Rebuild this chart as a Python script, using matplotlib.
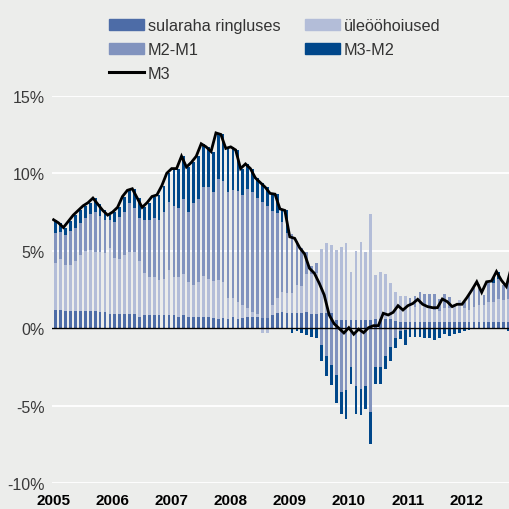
import numpy as np
import pandas as pd
import matplotlib
matplotlib.use("Agg")
import matplotlib.pyplot as plt
from matplotlib.patches import Patch
from matplotlib.lines import Line2D

# === DONNEES (contributions a la croissance de M3, %) ===
months = pd.date_range("2005-01-01", periods=93, freq="MS")
years = ["2005", "2006", "2007", "2008", "2009", "2010", "2011", "2012"]

sularaha = [1.18, 1.18, 1.12, 1.12, 1.12, 1.12, 1.12, 1.12, 1.12, 1.03, 1.03, 0.90,
            0.90, 0.90, 0.90, 0.90, 0.90, 0.75, 0.86, 0.86, 0.86, 0.86, 0.86, 0.86,
            0.86, 0.75, 0.86, 0.70, 0.75, 0.70, 0.70, 0.70, 0.65, 0.60, 0.65, 0.60,
            0.70, 0.60, 0.65, 0.70, 0.70, 0.75, 0.65, 0.65, 0.84, 0.97, 1.08, 0.97,
            0.97, 0.97, 0.97, 1.07, 0.90, 0.90, 0.97, 0.97, 0.97, 0.55, 0.55, 0.55,
            0.55, 0.55, 0.55, 0.55, 0.55, 0.60, 0.60, 0.60, 0.60, 0.45, 0.40, 0.40,
            0.40, 0.40, 0.40, 0.40, 0.40, 0.40, 0.39, 0.39, 0.39, 0.39, 0.39, 0.39,
            0.39, 0.40, 0.40, 0.40, 0.40, 0.40, 0.40, 0.40, 0.40]

uleoo = [3.02, 3.32, 2.98, 2.98, 3.23, 3.58, 3.88, 3.93, 3.83, 3.87, 3.81, 4.26,
         3.62, 3.60, 3.80, 4.05, 4.00, 3.60, 2.69, 2.47, 2.47, 2.24, 2.32, 2.90,
         2.47, 2.58, 2.62, 2.30, 2.05, 2.30, 2.70, 2.48, 2.40, 2.50, 2.35, 1.34,
         1.28, 1.10, 0.85, 0.59, 0.37, 0.15, -0.30, -0.30, 0.66, 0.97, 1.29, 1.30,
         1.33, 1.83, 1.73, 2.43, 2.60, 2.65, 4.13, 4.51, 4.40, 4.50, 4.72, 4.93,
         3.11, 4.45, 5.04, 4.40, 6.85, 2.84, 3.00, 2.88, 2.30, 1.92, 1.66, 1.66,
         1.10, 1.00, 1.20, 1.10, 0.90, 0.80, 0.70, 0.90, 0.90, 1.20, 1.44, 0.90,
         0.80, 1.00, 1.10, 1.10, 1.30, 1.30, 1.50, 1.43, 1.50]

m2_m1 = [1.93, 1.69, 1.90, 2.16, 2.10, 2.07, 2.10, 2.30, 2.58, 2.37, 2.16, 1.84,
         2.36, 2.70, 2.83, 3.11, 2.84, 2.75, 3.45, 3.67, 3.77, 3.90, 4.30, 4.37,
         4.57, 4.41, 4.87, 4.53, 5.26, 5.35, 5.74, 5.94, 5.72, 6.53, 6.50, 6.83,
         6.94, 7.16, 7.10, 7.70, 7.75, 7.49, 7.52, 7.25, 6.07, 5.48, 4.51, 3.87,
         3.80, 2.80, 2.50, 1.40, 0.50, 0.65, -1.08, -1.80, -2.37, -3.00, -4.10, -4.00,
         -2.50, -3.70, -3.90, -3.70, -5.40, -2.50, -2.50, -1.80, -1.20, -0.60, -0.17, -0.10,
         0.45, 0.66, 0.77, 0.70, 0.90, 1.00, 0.78, 0.90, 0.74, 0.00, 0.00, 0.43,
         0.97, 1.22, 1.34, 0.65, 1.20, 1.20, 1.30, 0.97, 1.10]

m3_m2 = [0.87, 0.61, 0.50, 0.64, 0.85, 0.83, 0.80, 0.75, 0.87, 0.73, 0.60, 0.30,
         0.62, 0.60, 0.97, 0.84, 1.26, 1.30, 0.80, 1.10, 1.40, 1.60, 1.72, 1.87,
         2.40, 2.56, 2.75, 2.87, 2.64, 2.75, 2.76, 2.58, 2.63, 2.97, 3.00, 2.83,
         2.78, 2.64, 1.70, 1.61, 1.48, 1.31, 1.23, 1.20, 1.13, 1.23, 0.82, 1.47,
         -0.32, -0.17, -0.30, -0.40, -0.55, -0.60, -1.02, -1.30, -1.29, -1.80, -1.40, -1.85,
         -1.10, -1.80, -1.70, -1.50, -2.05, -1.10, -1.10, -0.80, -0.90, -0.70, -0.55, -0.95,
         -0.54, -0.54, -0.54, -0.60, -0.65, -0.75, -0.60, -0.35, -0.50, -0.35, -0.30, -0.20,
         -0.10, -0.05, -0.05, -0.05, -0.05, 0.40, 0.40, -0.05, -0.20]

m3 = [7.0, 6.8, 6.5, 6.9, 7.3, 7.6, 7.9, 8.1, 8.4, 8.0, 7.6, 7.3,
      7.5, 7.8, 8.5, 8.9, 9.0, 8.4, 7.8, 8.1, 8.5, 8.6, 9.2, 10.0,
      10.3, 10.3, 11.1, 10.4, 10.7, 11.1, 11.9, 11.7, 11.4, 12.6, 12.5, 11.6,
      11.7, 11.5, 10.3, 10.6, 10.3, 9.7, 9.4, 9.1, 8.7, 8.65, 7.7, 7.6,
      5.9, 5.8, 5.2, 4.8, 3.87, 3.55, 2.9, 2.15, 0.87, 0.3, 0.0, -0.3,
      0.04, -0.38, -0.05, -0.28, 0.04, 0.17, 0.17, 0.97, 0.86, 1.03, 1.46, 1.18,
      1.46, 1.6, 1.87, 1.55, 1.4, 1.33, 1.33, 1.89, 1.72, 1.4, 1.55, 1.55,
      1.98, 2.47, 3.0, 2.32, 3.0, 3.05, 3.66, 3.1, 2.7, 3.9]

# === STYLE ===
plt.rcParams["font.family"] = ["Liberation Sans", "DejaVu Sans"]
bg = "#ecedeb"
c_sul = "#4d6ca7"
c_ule = "#b3bdd8"
c_m21 = "#8193be"
c_m32 = "#00478a"

fig = plt.figure(figsize=(5.09, 5.10), dpi=100, facecolor=bg)
ax = fig.add_axes([51.7 / 509, 1 - 484.4 / 510, 1 - 51.7 / 509, (484.4 - 96.7) / 510])
ax.set_facecolor(bg)

# === BARRES EMPILEES (positif vers le haut, negatif vers le bas) ===
x = np.arange(len(months))
pos = np.zeros(len(x))
neg = np.zeros(len(x))
for vals, col in [(sularaha, c_sul), (uleoo, c_ule), (m2_m1, c_m21), (m3_m2, c_m32)]:
    v = np.array(vals)
    bottom = np.where(v >= 0, pos, neg)
    ax.bar(x, v, width=0.55, bottom=bottom, color=col, linewidth=0, zorder=2)
    pos += np.clip(v, 0, None)
    neg += np.clip(v, None, 0)

ax.axhline(0, color="black", lw=1.0, zorder=3)
ax.plot(np.arange(len(m3)) - 0.45, m3, color="black", lw=2.0, zorder=4,
        solid_joinstyle="miter")

# === AXES ===
ax.set_xlim(-0.83, 92.1)
ax.set_ylim(-10, 15)
ax.set_yticks([-10, -5, 0, 5, 10, 15])
ax.set_yticklabels(["-10%", "-5%", "0%", "5%", "10%", "15%"])
ax.set_xticks([12 * k - 0.5 for k in range(len(years))])
ax.set_xticklabels(years, fontweight="bold")
ax.tick_params(axis="y", length=0, pad=5, labelsize=11.5, labelcolor="#3a3a3a")
ax.tick_params(axis="x", length=0, pad=7, labelsize=11, labelcolor="black")
ax.yaxis.grid(True, color="white", lw=1.3)
ax.set_axisbelow(True)
for s in ax.spines.values():
    s.set_visible(False)

# === LEGENDE ===
handles = [Patch(color=c_sul), Patch(color=c_m21), Line2D([], [], color="black", lw=2.2),
           Patch(color=c_ule), Patch(color=c_m32)]
labels = ["sularaha ringluses", "M2-M1", "M3", "üleööhoiused", "M3-M2"]
fig.legend(handles, labels, loc="upper left", bbox_to_anchor=(0.214, 0.963),
           frameon=False, ncol=2, fontsize=11.7, handlelength=2.15, handleheight=0.68,
           handletextpad=0.25, columnspacing=1.5, labelspacing=0.55, borderpad=0,
           borderaxespad=0, labelcolor="#333333")

fig.savefig("out.png", dpi=100, facecolor=bg)
